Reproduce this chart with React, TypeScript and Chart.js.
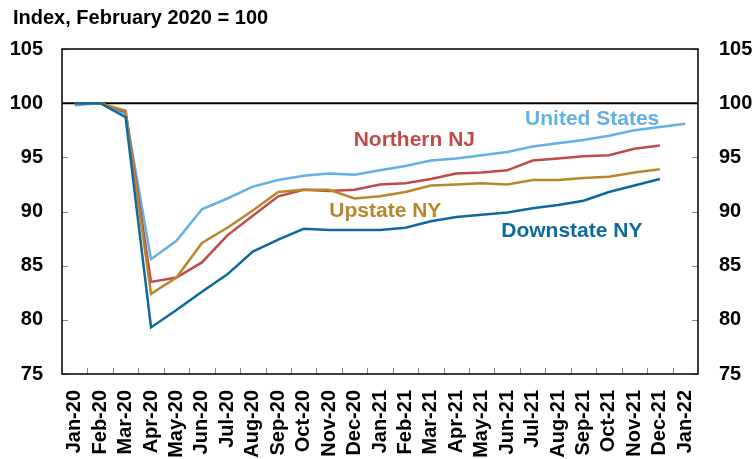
import React, { useEffect, useRef } from 'react';
import { Chart, registerables } from 'chart.js';

Chart.register(...registerables);

const categories = [
  'Jan-20', 'Feb-20', 'Mar-20', 'Apr-20', 'May-20', 'Jun-20', 'Jul-20', 'Aug-20', 'Sep-20', 'Oct-20', 'Nov-20', 'Dec-20',
  'Jan-21', 'Feb-21', 'Mar-21', 'Apr-21', 'May-21', 'Jun-21', 'Jul-21', 'Aug-21', 'Sep-21', 'Oct-21', 'Nov-21', 'Dec-21',
  'Jan-22',
];

const unitedStates = [99.8, 100, 99.0, 85.6, 87.3, 90.2, 91.2, 92.3, 92.9, 93.3, 93.5, 93.4, 93.8, 94.2, 94.7, 94.9, 95.2, 95.5, 96.0, 96.3, 96.6, 97.0, 97.5, 97.8, 98.1];
const northernNJ = [100, 100, 99.2, 83.5, 83.9, 85.3, 87.8, 89.6, 91.4, 92.0, 91.9, 92.0, 92.5, 92.6, 93.0, 93.5, 93.6, 93.8, 94.7, 94.9, 95.1, 95.2, 95.8, 96.1, null];
const upstateNY = [100, 100, 99.3, 82.4, 83.9, 87.1, 88.5, 90.1, 91.8, 92.0, 92.0, 91.2, 91.4, 91.8, 92.4, 92.5, 92.6, 92.5, 92.9, 92.9, 93.1, 93.2, 93.6, 93.9, null];
const downstateNY = [100, 100, 98.7, 79.3, 80.9, 82.6, 84.2, 86.3, 87.4, 88.4, 88.3, 88.3, 88.3, 88.5, 89.1, 89.5, 89.7, 89.9, 90.3, 90.6, 91.0, 91.8, 92.4, 93.0, null];

const yTicks = [75, 80, 85, 90, 95, 100, 105];
const titleText = 'Index, February 2020 = 100';

const colors = {
  us: '#62B0E4',
  nj: '#BF4B48',
  up: '#B8862D',
  down: '#0C6A9E',
};

// Series labels anchored in data space (category index, value)
const seriesLabels = [
  { text: 'United States', color: colors.us, cat: 20.34, val: 98.55 },
  { text: 'Northern NJ', color: colors.nj, cat: 13.35, val: 96.6 },
  { text: 'Upstate NY', color: colors.up, cat: 12.21, val: 90.05 },
  { text: 'Downstate NY', color: colors.down, cat: 19.54, val: 88.15 },
];

const FONT = '"Liberation Sans", Arial, Helvetica, sans-serif';

const decorPlugin = {
  id: 'decor',
  beforeDatasetsDraw(chart: any) {
    const { ctx, chartArea: a, scales } = chart;
    const y = scales.y;
    const x = scales.x;
    ctx.save();
    ctx.strokeStyle = '#8a8a8a';
    ctx.lineWidth = 1;
    yTicks.forEach((v) => {
      const py = Math.round(y.getPixelForValue(v)) + 0.5;
      ctx.beginPath();
      ctx.moveTo(a.left, py);
      ctx.lineTo(a.left + 6, py);
      ctx.moveTo(a.right - 6, py);
      ctx.lineTo(a.right, py);
      ctx.stroke();
    });
    for (let i = 1; i < categories.length; i++) {
      const px = Math.round((x.getPixelForValue(i - 1) + x.getPixelForValue(i)) / 2) + 0.5;
      ctx.beginPath();
      ctx.moveTo(px, a.bottom);
      ctx.lineTo(px, a.bottom - 6);
      ctx.stroke();
    }
    // reference line at 100
    const p100 = y.getPixelForValue(100);
    ctx.strokeStyle = '#000';
    ctx.lineWidth = 2;
    ctx.beginPath();
    ctx.moveTo(a.left, p100);
    ctx.lineTo(a.right, p100);
    ctx.stroke();
    // frame
    ctx.lineWidth = 1.5;
    ctx.strokeRect(a.left, a.top, a.right - a.left, a.bottom - a.top);
    ctx.restore();
  },
  afterDatasetsDraw(chart: any) {
    const { ctx, scales } = chart;
    ctx.save();
    ctx.font = `bold 21px ${FONT}`;
    ctx.textAlign = 'center';
    ctx.textBaseline = 'middle';
    seriesLabels.forEach((l) => {
      ctx.fillStyle = l.color;
      ctx.fillText(l.text, scales.x.getPixelForValue(l.cat), scales.y.getPixelForValue(l.val));
    });
    ctx.restore();
  },
  afterDraw(chart: any) {
    const { ctx } = chart;
    ctx.save();
    ctx.font = `bold 20px ${FONT}`;
    ctx.fillStyle = '#000';
    ctx.textAlign = 'left';
    ctx.textBaseline = 'alphabetic';
    ctx.fillText(titleText, 13, 24);
    ctx.restore();
  },
};

export default function App() {
  const ref = useRef<HTMLCanvasElement | null>(null);

  useEffect(() => {
    if (!ref.current) return;
    const tickFont = { family: FONT, size: 20, weight: 'bold' as const };
    const mk = (data: (number | null)[], color: string) => ({
      data,
      borderColor: color,
      backgroundColor: color,
      borderWidth: 2.5,
      pointRadius: 0,
      tension: 0,
      fill: false,
    });
    const chart = new Chart(ref.current, {
      type: 'line',
      data: {
        labels: categories,
        datasets: [
          mk(downstateNY, colors.down),
          mk(upstateNY, colors.up),
          mk(northernNJ, colors.nj),
          mk(unitedStates, colors.us),
        ],
      },
      plugins: [decorPlugin],
      options: {
        animation: false,
        responsive: false,
        devicePixelRatio: 1,
        layout: { padding: { top: 49, left: 0, right: 0, bottom: 0 } },
        plugins: { legend: { display: false }, tooltip: { enabled: false }, title: { display: false } },
        scales: {
          x: {
            type: 'category',
            offset: true,
            grid: { display: false, drawTicks: false },
            border: { display: false },
            ticks: {
              font: tickFont,
              color: '#000',
              padding: 16,
              autoSkip: false,
              minRotation: 90,
              maxRotation: 90,
            },
            afterFit: (s: any) => { s.height = 85; },
          },
          y: {
            position: 'left',
            min: 75,
            max: 105,
            grid: { display: false, drawTicks: false },
            border: { display: false },
            ticks: { font: tickFont, color: '#000', padding: 19 },
            afterBuildTicks: (s: any) => { s.ticks = yTicks.map((v) => ({ value: v })); },
            afterFit: (s: any) => { s.width = 62; },
          },
          y2: {
            position: 'right',
            min: 75,
            max: 105,
            grid: { display: false, drawTicks: false },
            border: { display: false },
            ticks: { font: tickFont, color: '#000', padding: 21 },
            afterBuildTicks: (s: any) => { s.ticks = yTicks.map((v) => ({ value: v })); },
            afterFit: (s: any) => { s.width = 56; },
          },
        },
      },
    });
    return () => chart.destroy();
  }, []);

  return (
    <div style={{ position: 'absolute', left: 0, top: 0, width: 754, height: 459, background: '#fff' }}>
      <canvas ref={ref} width={754} height={459} style={{ display: 'block', width: 754, height: 459 }} />
    </div>
  );
}
